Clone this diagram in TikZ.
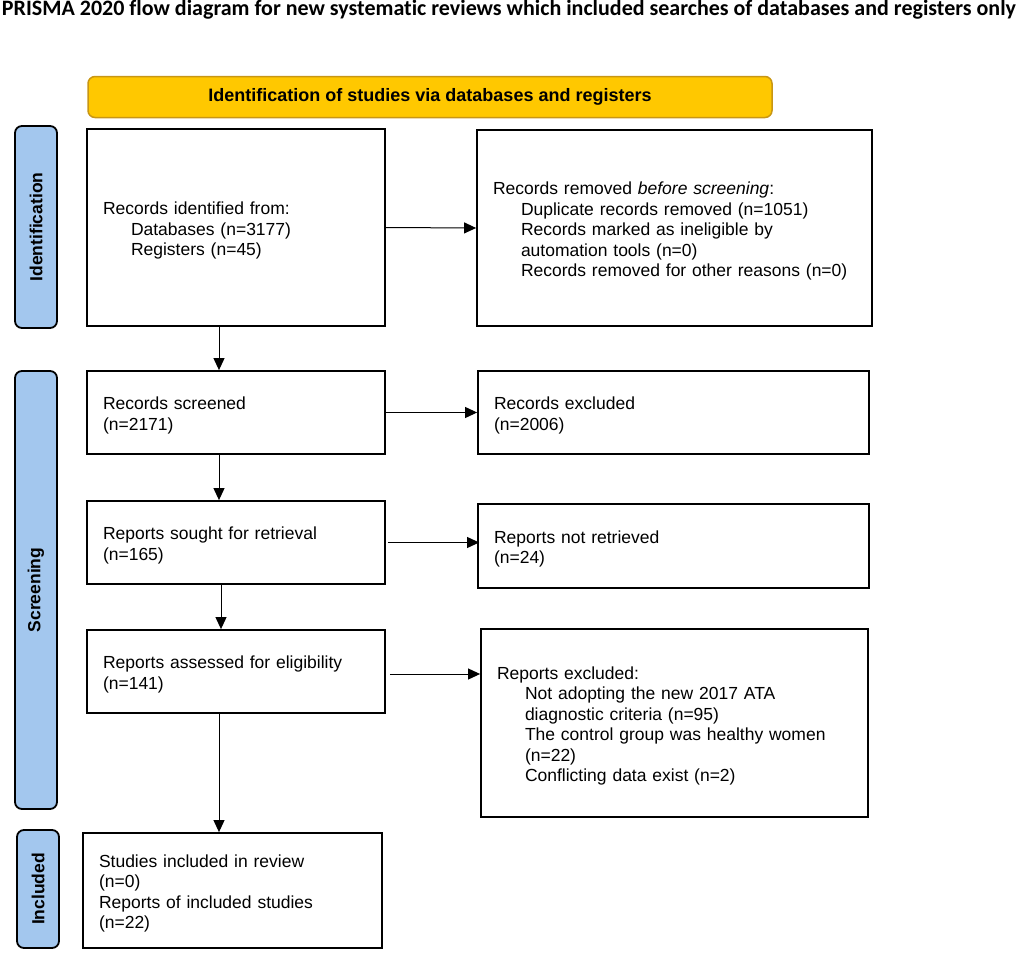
\documentclass[tikz,border=0pt]{standalone}
\usepackage{fontspec}
\setmainfont{Liberation Sans}
\newfontfamily\titlefont[Ligatures=NoCommon]{Carlito}
\usetikzlibrary{arrows.meta}
\definecolor{hdrfill}{RGB}{255,200,0}
\definecolor{hdrdraw}{RGB}{200,150,20}
\definecolor{sidefill}{RGB}{163,199,238}
\newcommand{\ind}{\hspace*{28pt}}
\newcommand{\trimbottom}{\endgraf\vspace*{-6pt}}
\begin{document}
\begin{tikzpicture}[x=1pt,y=1pt,
  txt/.style={font=\fontsize{17.5}{20.5}\selectfont},
  flowbox/.style={draw=black, line width=1.8pt, fill=white, txt, align=left,
    inner xsep=16pt, inner ysep=0pt, execute at end node={\trimbottom}},
  sidelab/.style={draw=black, line width=1.8pt, fill=sidefill, rounded corners=7pt,
    rotate=90, font=\bfseries\fontsize{17.5}{20}\selectfont, inner sep=0pt},
  arr/.style={line width=1pt, -{Triangle[length=12pt,width=11pt]}}
]
\useasboundingbox (0,0) rectangle (1018,-953);

\node[font=\titlefont\bfseries\fontsize{22}{24}\selectfont, anchor=base] (title) at (509,-16)
  {PRISMA 2020 flow diagram for new systematic reviews which included searches of databases and registers only};

\node[draw=hdrdraw, line width=1.5pt, fill=hdrfill, rounded corners=7pt,
  minimum width=684pt, minimum height=41pt, inner sep=0pt,
  font=\bfseries\fontsize{18}{20}\selectfont] (hdr) at (430,-97)
  {Identification of studies via databases and registers};

\node[sidelab, minimum width=202pt, minimum height=42pt] (idlab) at (36,-227) {Identification};
\node[sidelab, minimum width=438pt, minimum height=42pt] (scrlab) at (36,-590) {Screening};
\node[sidelab, minimum width=118pt, minimum height=42pt] (inclab) at (38,-889) {Included};

\node[flowbox, minimum width=298pt, minimum height=197pt, text width=266pt] (b1) at (236,-227.5)
  {Records identified from:\\ \ind Databases (n=3177)\\ \ind Registers (n=45)};
\node[flowbox, minimum width=395pt, minimum height=196pt, text width=363pt] (b2) at (674.5,-228)
  {Records removed \textit{before screening}:\\ \ind Duplicate records removed (n=1051)\\ \ind Records marked as ineligible by\\ \ind automation tools (n=0)\\ \ind Records removed for other reasons (n=0)};
\node[flowbox, minimum width=298pt, minimum height=83pt, text width=266pt] (b3) at (236,-412.5)
  {Records screened\\(n=2171)};
\node[flowbox, minimum width=391pt, minimum height=83pt, text width=359pt] (b4) at (673.5,-412.5)
  {Records excluded\\(n=2006)};
\node[flowbox, minimum width=298pt, minimum height=83pt, text width=266pt] (b5) at (236,-542.5)
  {Reports sought for retrieval\\(n=165)};
\node[flowbox, minimum width=391pt, minimum height=84pt, text width=359pt] (b6) at (673.5,-546)
  {Reports not retrieved\\(n=24)};
\node[flowbox, minimum width=298pt, minimum height=83pt, text width=266pt] (b7) at (236,-671.5)
  {Reports assessed for eligibility\\(n=141)};
\node[flowbox, minimum width=387pt, minimum height=188pt, text width=355pt] (b8) at (674.5,-723)
  {Reports excluded:\\ \ind Not adopting the new 2017 ATA\\ \ind diagnostic criteria (n=95)\\ \ind The control group was healthy women\\ \ind (n=22)\\ \ind Conflicting data exist (n=2)};
\node[flowbox, minimum width=299pt, minimum height=115pt, text width=267pt] (b9) at (232.5,-890.5)
  {Studies included in review\\(n=0)\\Reports of included studies\\(n=22)};

\draw[arr] (b1.east) -- (b2.west);
\draw[arr] ([xshift=-17pt]b1.south) -- ([xshift=-17pt]b3.north);
\draw[arr] (b3.east) -- (b4.west);
\draw[arr] ([xshift=-17pt]b3.south) -- ([xshift=-17pt]b5.north);
\draw[arr] ([xshift=2pt]b5.east) -- ([xshift=2pt]b5.east -| b6.west);
\draw[arr] ([xshift=-15pt]b5.south) -- ([xshift=-15pt]b7.north);
\draw[arr] ([xshift=4pt,yshift=-2.5pt]b7.east) -- ([yshift=-2.5pt]b7.east -| b8.west);
\draw[arr] ([xshift=-17pt]b7.south) -- ([xshift=-13.5pt]b9.north);
\end{tikzpicture}
\end{document}
